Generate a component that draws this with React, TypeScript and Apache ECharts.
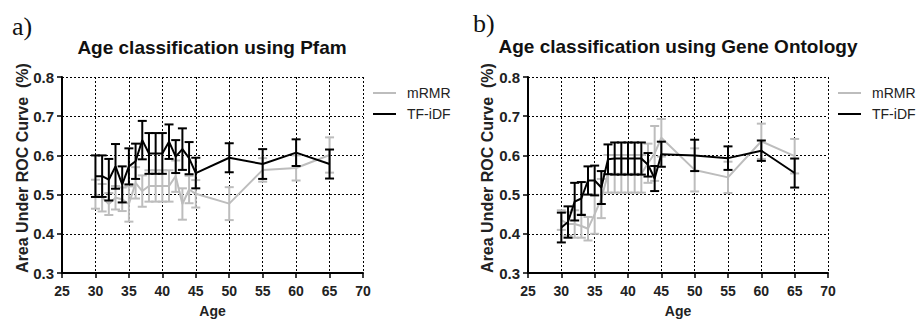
import React, { useEffect, useRef } from "react";
import * as echarts from "echarts";

const ages = [30, 31, 32, 33, 34, 35, 36, 37, 38, 39, 40, 41, 42, 43, 44, 45, 50, 55, 60, 65];
const xTicks = [25, 30, 35, 40, 45, 50, 55, 60, 65, 70];

const pfamMrmr = [0.501, 0.492, 0.476, 0.492, 0.488, 0.476, 0.53, 0.509, 0.522, 0.522, 0.522, 0.522, 0.547, 0.476, 0.513, 0.502, 0.477, 0.563, 0.568, 0.601];
const pfamMrmrErr = [0.037, 0.035, 0.028, 0.03, 0.03, 0.045, 0.04, 0.04, 0.04, 0.04, 0.04, 0.04, 0.04, 0.04, 0.035, 0.035, 0.042, 0.03, 0.032, 0.045];
const pfamTfidf = [0.547, 0.547, 0.538, 0.572, 0.526, 0.572, 0.585, 0.639, 0.605, 0.605, 0.605, 0.635, 0.597, 0.616, 0.593, 0.555, 0.594, 0.578, 0.607, 0.578];
const pfamTfidfErr = [0.053, 0.053, 0.053, 0.057, 0.046, 0.046, 0.045, 0.049, 0.052, 0.052, 0.052, 0.044, 0.042, 0.053, 0.041, 0.039, 0.037, 0.038, 0.034, 0.037];

const goMrmr = [0.435, 0.425, 0.425, 0.42, 0.413, 0.45, 0.49, 0.553, 0.553, 0.553, 0.553, 0.553, 0.553, 0.58, 0.605, 0.645, 0.563, 0.544, 0.636, 0.598];
const goMrmrErr = [0.025, 0.03, 0.035, 0.03, 0.03, 0.05, 0.05, 0.048, 0.048, 0.048, 0.048, 0.048, 0.048, 0.05, 0.07, 0.048, 0.055, 0.04, 0.045, 0.044];
const goTfidf = [0.416, 0.43, 0.482, 0.49, 0.536, 0.536, 0.518, 0.59, 0.592, 0.592, 0.592, 0.592, 0.592, 0.576, 0.541, 0.603, 0.6, 0.593, 0.612, 0.555];
const goTfidfErr = [0.038, 0.04, 0.048, 0.042, 0.036, 0.038, 0.042, 0.038, 0.041, 0.041, 0.041, 0.041, 0.041, 0.03, 0.032, 0.032, 0.04, 0.03, 0.026, 0.037];

const GRAY = "#bdbdbd";
const BLACK = "#000000";
const FONT = "Liberation Sans, Arial, sans-serif";
const Y_NAME = "Area Under ROC Curve  (%)";

function errSeries(vals: number[], errs: number[], color: string, idx: number, z: number) {
  return {
    type: "custom",
    xAxisIndex: idx,
    yAxisIndex: idx,
    silent: true,
    data: ages.map((a, i) => [a, vals[i] - errs[i], vals[i] + errs[i]]),
    encode: { x: 0, y: [1, 2] },
    renderItem: (_p: any, api: any) => {
      const x = api.value(0);
      const lo = api.coord([x, api.value(1)]);
      const hi = api.coord([x, api.value(2)]);
      const w = 4.5;
      const st = { stroke: color, lineWidth: 2 };
      return {
        type: "group",
        children: [
          { type: "line", shape: { x1: lo[0], y1: lo[1], x2: hi[0], y2: hi[1] }, style: st },
          { type: "line", shape: { x1: lo[0] - w, y1: lo[1], x2: lo[0] + w, y2: lo[1] }, style: st },
          { type: "line", shape: { x1: hi[0] - w, y1: hi[1], x2: hi[0] + w, y2: hi[1] }, style: st },
        ],
      };
    },
    z,
  };
}

function lineSeries(name: string, vals: number[], color: string, idx: number, z: number) {
  return {
    type: "line",
    name,
    xAxisIndex: idx,
    yAxisIndex: idx,
    data: ages.map((a, i) => [a, vals[i]]),
    symbol: "none",
    lineStyle: { color, width: 2 },
    itemStyle: { color },
    z,
  };
}

function xAxis(idx: number) {
  return {
    type: "value",
    gridIndex: idx,
    min: xTicks[0],
    max: xTicks[xTicks.length - 1],
    interval: 5,
    name: "Age",
    nameLocation: "middle",
    nameGap: 31,
    nameTextStyle: { fontFamily: FONT, fontWeight: "bold", fontSize: 14, color: "#222" },
    axisLine: { lineStyle: { color: "#000", width: 2 } },
    axisTick: { lineStyle: { color: "#000", width: 1.5 }, length: 5 },
    axisLabel: { fontFamily: FONT, fontWeight: "bold", fontSize: 14, color: "#222", margin: 11 },
    splitLine: { show: true, lineStyle: { color: "#000", type: [2, 2], width: 1 } },
  };
}

function yAxis(idx: number) {
  return {
    type: "value",
    gridIndex: idx,
    min: 0.3,
    max: 0.8,
    interval: 0.1,
    axisLine: { show: true, lineStyle: { color: "#000", width: 2 } },
    axisTick: { show: true, lineStyle: { color: "#000", width: 1.5 }, length: 5 },
    axisLabel: {
      fontFamily: FONT,
      fontWeight: "bold",
      fontSize: 15,
      color: "#222",
      margin: 8,
      formatter: (v: number) => v.toFixed(1),
    },
    splitLine: { show: true, lineStyle: { color: "#000", type: [2, 2], width: 1 } },
  };
}

function legend(left: number) {
  return {
    data: ["mRMR", "TF-iDF"],
    left,
    top: 81,
    orient: "vertical",
    icon: "rect",
    itemWidth: 23,
    itemHeight: 2,
    itemGap: 7,
    selectedMode: false,
    textStyle: { fontFamily: FONT, fontSize: 14, color: "#222", padding: [0, 0, 0, 6] },
  };
}

function yName(x: number) {
  return {
    type: "text",
    x,
    y: 168,
    rotation: Math.PI / 2,
    style: {
      text: Y_NAME,
      font: "bold 16px 'Liberation Sans', Arial, sans-serif",
      fill: "#222",
      textAlign: "center",
      textVerticalAlign: "middle",
    },
  };
}

export default function App() {
  const ref = useRef<HTMLDivElement>(null);
  useEffect(() => {
    document.body.style.margin = "0";
    const chart = echarts.init(ref.current!, null, { renderer: "svg" });
    chart.setOption({
      animation: false,
      backgroundColor: "#ffffff",
      grid: [
        { left: 62, top: 77, width: 301, height: 200 },
        { left: 528, top: 77, width: 300, height: 200 },
      ],
      xAxis: [xAxis(0), xAxis(1)],
      yAxis: [yAxis(0), yAxis(1)],
      legend: [legend(368), legend(833)],
      graphic: [
        { type: "text", left: 12, top: 13, style: { text: "a)", font: "26px 'Liberation Serif', serif", fill: "#111" } },
        { type: "text", left: 473, top: 10, style: { text: "b)", font: "26px 'Liberation Serif', serif", fill: "#111" } },
        {
          type: "text",
          x: 212,
          y: 47,
          style: { text: "Age classification using Pfam", font: "bold 19px 'Liberation Sans', Arial, sans-serif", fill: "#111", textAlign: "center", textVerticalAlign: "middle" },
        },
        {
          type: "text",
          x: 678,
          y: 46,
          style: { text: "Age classification using Gene Ontology", font: "bold 19px 'Liberation Sans', Arial, sans-serif", fill: "#111", textAlign: "center", textVerticalAlign: "middle" },
        },
        yName(22),
        yName(487),
      ],
      series: [
        errSeries(pfamMrmr, pfamMrmrErr, GRAY, 0, 2),
        lineSeries("mRMR", pfamMrmr, GRAY, 0, 3),
        errSeries(pfamTfidf, pfamTfidfErr, BLACK, 0, 4),
        lineSeries("TF-iDF", pfamTfidf, BLACK, 0, 5),
        errSeries(goMrmr, goMrmrErr, GRAY, 1, 2),
        lineSeries("mRMR", goMrmr, GRAY, 1, 3),
        errSeries(goTfidf, goTfidfErr, BLACK, 1, 4),
        lineSeries("TF-iDF", goTfidf, BLACK, 1, 5),
      ],
    });
    return () => chart.dispose();
  }, []);
  return <div ref={ref} style={{ width: 922, height: 323 }} />;
}
